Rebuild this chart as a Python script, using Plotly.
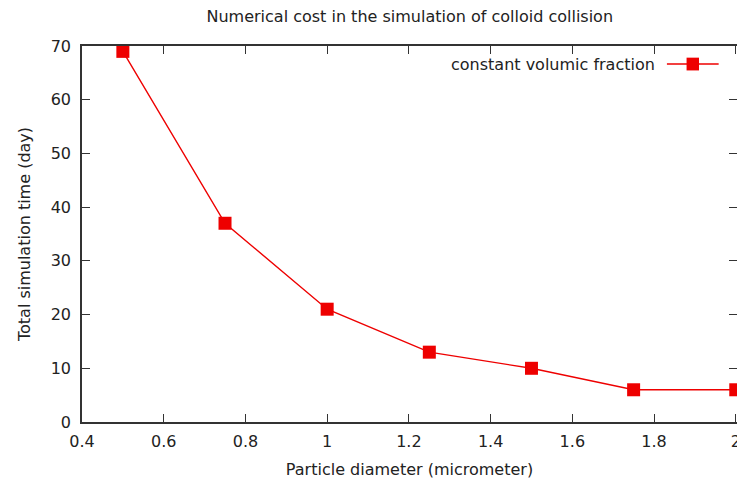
import plotly.graph_objects as go

# Particle diameter (micrometer) vs total simulation time (day)
diameter = [0.5, 0.75, 1.0, 1.25, 1.5, 1.75, 2.0]
sim_days = [69, 37, 21, 13, 10, 6, 6]
series_name = "constant volumic fraction"

x_ticks = [0.4, 0.6, 0.8, 1.0, 1.2, 1.4, 1.6, 1.8, 2.0]
x_tick_text = ["0.4", "0.6", "0.8", "1", "1.2", "1.4", "1.6", "1.8", "2"]
y_ticks = [0, 10, 20, 30, 40, 50, 60, 70]

_RED = "#ee0000"
_AXIS = "#333333"
_TEXT = "#222222"
_FONT = "DejaVu Sans, Verdana, sans-serif"

fig = go.Figure(
    go.Scatter(
        x=diameter,
        y=sim_days,
        mode="lines+markers",
        name=series_name,
        line=dict(color=_RED, width=1.4),
        marker=dict(symbol="square", size=13, color=_RED),
        showlegend=False,
    )
)

# gnuplot-style key: text on the left, sample on the right
fig.add_annotation(
    x=0.878, y=0.952, xref="paper", yref="paper",
    text=series_name, showarrow=False,
    xanchor="right", yanchor="middle",
    font=dict(size=16, color=_TEXT, family=_FONT),
)
fig.add_shape(
    type="line", xref="paper", yref="paper",
    x0=0.893, x1=0.972, y0=0.952, y1=0.952,
    line=dict(color=_RED, width=1.4),
)
fig.add_shape(
    type="rect", xref="paper", yref="paper",
    x0=0.923, x1=0.942, y0=0.935, y1=0.969,
    fillcolor=_RED, line=dict(width=0),
)

axis_common = dict(
    showgrid=False,
    zeroline=False,
    showline=True,
    linecolor=_AXIS,
    linewidth=1.5,
    mirror="ticks",
    ticks="inside",
    ticklen=8,
    tickwidth=1.2,
    tickcolor=_AXIS,
    automargin=False,
    ticklabeloverflow="allow",
    tickfont=dict(size=16, color=_TEXT, family=_FONT),
    title_font=dict(size=16, color=_TEXT, family=_FONT),
)

fig.update_layout(
    width=737,
    height=484,
    margin=dict(l=82, r=0, t=46, b=62),
    plot_bgcolor="white",
    paper_bgcolor="white",
    title=dict(
        text="Numerical cost in the simulation of colloid collision",
        x=0.556, xanchor="center", y=0.967, yanchor="middle",
        font=dict(size=16, color=_TEXT, family=_FONT),
    ),
    xaxis=dict(
        range=[0.4, 2.003],
        tickvals=x_ticks,
        ticktext=x_tick_text,
        ticklabelstandoff=4,
        title=dict(text="Particle diameter (micrometer)", standoff=14),
        **axis_common,
    ),
    yaxis=dict(
        range=[0, 70],
        tickvals=y_ticks,
        ticklabelstandoff=6,
        title=dict(text="Total simulation time (day)", standoff=16),
        **axis_common,
    ),
)

# drop the page's default 8px body margin so the figure sits at (0, 0)
fig.write_html(
    "out.html",
    config={"displayModeBar": False},
    post_script="document.body.style.margin='0';",
)
